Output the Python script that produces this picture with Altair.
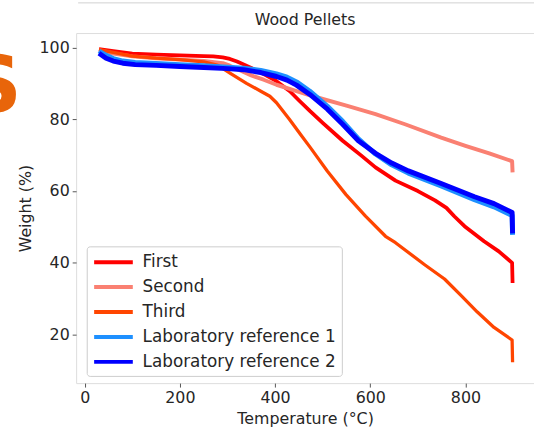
import altair as alt
import pandas as pd

# Thermogravimetric curves for wood pellets: temperature (°C) vs remaining weight (%)
series_names = ["First", "Second", "Third", "Laboratory reference 1", "Laboratory reference 2"]
series_colors = ["#ff0000", "#fa8072", "#ff4500", "#1e90ff", "#0000ff"]
series_widths = [3.8, 4, 3.3, 5, 5]

temps_first = [30, 60, 100, 150, 200, 250, 270, 290, 305, 320, 335, 350, 380, 403, 431, 452, 473, 500, 542, 580, 611, 653, 700, 736, 760, 777, 798, 839, 870, 898, 899]
weight_first = [99.5, 99.0, 98.3, 98.0, 97.8, 97.6, 97.5, 97.2, 96.8, 96.1, 95.2, 94.3, 92.3, 90.6, 87.8, 85.0, 82.3, 79.0, 74.0, 70.0, 66.6, 62.9, 60.0, 57.4, 55.3, 52.9, 50.2, 46.0, 43.2, 40.0, 34.4]

temps_second = [30, 60, 100, 150, 200, 250, 290, 305, 320, 350, 376, 403, 445, 480, 550, 611, 673, 749, 800, 850, 898, 899]
weight_second = [99.2, 98.3, 97.5, 97.0, 96.6, 96.2, 95.6, 94.9, 94.0, 92.2, 91.0, 89.6, 87.8, 86.4, 83.8, 81.4, 78.6, 74.9, 72.6, 70.5, 68.3, 65.2]

temps_third = [30, 60, 100, 150, 200, 250, 280, 306, 340, 370, 389, 403, 430, 452, 473, 510, 549, 590, 632, 653, 715, 756, 790, 825, 860, 898, 899]
weight_third = [99.4, 98.6, 97.6, 97.0, 96.6, 96.0, 95.0, 92.8, 90.0, 87.8, 86.4, 84.6, 80.0, 76.0, 72.3, 65.5, 59.0, 53.0, 47.4, 45.6, 39.4, 35.5, 31.0, 26.3, 22.0, 18.5, 12.3]

temps_lab1 = [30, 45, 60, 80, 106, 150, 200, 250, 300, 334, 370, 403, 425, 445, 473, 510, 542, 575, 611, 645, 680, 749, 819, 860, 898, 899]
weight_lab1 = [99.0, 97.8, 96.9, 96.2, 95.8, 95.5, 95.2, 94.9, 94.5, 94.2, 93.6, 92.6, 91.7, 90.4, 87.8, 83.6, 79.4, 74.5, 70.3, 67.3, 65.0, 61.4, 57.6, 55.6, 53.2, 47.8]

temps_lab2 = [30, 45, 60, 80, 106, 150, 200, 250, 300, 334, 370, 403, 425, 445, 473, 510, 542, 575, 611, 645, 680, 749, 819, 860, 898, 899]
weight_lab2 = [98.4, 97.0, 96.2, 95.6, 95.2, 95.0, 94.7, 94.4, 94.1, 93.8, 93.0, 91.9, 90.9, 89.5, 86.9, 82.8, 78.6, 74.0, 70.5, 67.8, 65.6, 62.1, 58.4, 56.5, 54.0, 48.2]

x_ticks = [0, 200, 400, 600, 800]
y_ticks = [20, 40, 60, 80, 100]

all_temps = [temps_first, temps_second, temps_third, temps_lab1, temps_lab2]
all_weights = [weight_first, weight_second, weight_third, weight_lab1, weight_lab2]

rows = []
for name, temps, weights in zip(series_names, all_temps, all_weights):
    for i, (t, w) in enumerate(zip(temps, weights)):
        rows.append({"series": name, "temperature": t, "weight": w, "idx": i})
df = pd.DataFrame(rows)

FONT = "DejaVu Sans"
TEXT = "#262626"

color_scale = alt.Scale(domain=series_names, range=series_colors)
# A flat stroke longer than the symbol cell keeps the rows compact
legend = alt.Legend(
    title=None,
    orient="none",
    legendX=10.7,
    legendY=215.7,
    labelFont=FONT,
    labelFontSize=17,
    labelColor=TEXT,
    labelLimit=400,
    symbolType="M-1,0H3.6",
    symbolSize=289,
    symbolStrokeWidth=4,
    symbolFillColor="transparent",
    labelOffset=30,
    rowPadding=6.2,
    padding=5.5,
    fillColor="rgba(255,255,255,0.8)",
    strokeColor="#cccccc",
    cornerRadius=3,
)

x_enc = alt.X(
    "temperature:Q",
    scale=alt.Scale(domain=[-18, 944], nice=False, zero=False),
    axis=alt.Axis(
        values=x_ticks, format="d", title="Temperature (°C)", grid=False, domain=False,
        tickSize=4, tickColor="#555555", tickWidth=1,
        labelFont=FONT, labelFontSize=16, labelColor=TEXT, labelPadding=3,
        titleFont=FONT, titleFontSize=16, titleColor=TEXT, titleFontWeight="normal", titlePadding=5,
    ),
)
y_enc = alt.Y(
    "weight:Q",
    scale=alt.Scale(domain=[6.5, 104], nice=False, zero=False),
    axis=alt.Axis(
        values=y_ticks, format="d", title="Weight (%)", grid=False, domain=False,
        tickSize=4, tickColor="#555555", tickWidth=1,
        labelFont=FONT, labelFontSize=16, labelColor=TEXT, labelPadding=3,
        titleFont=FONT, titleFontSize=16, titleColor=TEXT, titleFontWeight="normal", titlePadding=6,
    ),
)

layers = []
for name, width in zip(series_names, series_widths):
    layers.append(
        alt.Chart(df)
        .transform_filter(alt.datum.series == name)
        .mark_line(strokeWidth=width, strokeJoin="round", strokeCap="butt")
        .encode(
            x=x_enc,
            y=y_enc,
            order="idx:Q",
            color=alt.Color("series:N", scale=color_scale, legend=legend),
        )
    )

# Edge of the neighbouring panel: a thin rule above and a partly hidden orange letter
top_rule = alt.Chart(pd.DataFrame({"k": [0]})).mark_rule(color="#d0d0d0", strokeWidth=1).encode(
    x=alt.value(2), x2=alt.value(480), y=alt.value(-30.5)
)
side_letter = alt.Chart(pd.DataFrame({"t": ["S"]})).mark_text(
    font=FONT, fontSize=80, fontWeight="bold", color="#e8650a", align="right", baseline="alphabetic"
).encode(text="t:N", x=alt.value(-55), y=alt.value(80))

chart = (
    alt.layer(*layers, top_rule, side_letter)
    .properties(
        width=463,
        height=354,
        title=alt.TitleParams("Wood Pellets", font=FONT, fontSize=16, fontWeight="normal", color=TEXT, offset=-26),
        autosize=alt.AutoSizeParams(type="none"),
        padding={"left": 77, "top": 31, "right": 0, "bottom": 46},
    )
    .configure_view(stroke="#808080", strokeWidth=1.3)
    .configure(background="white")
)

chart.save("out.html", embed_options={"renderer": "svg", "actions": False})
